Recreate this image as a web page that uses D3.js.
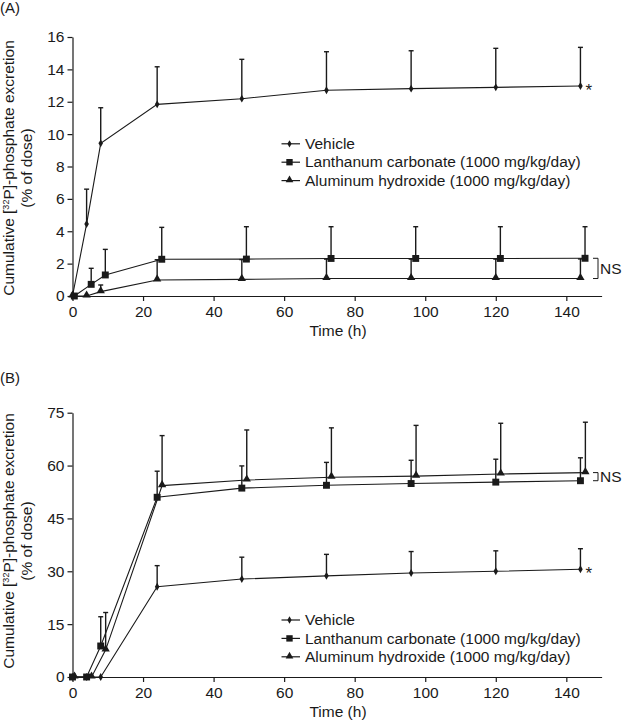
<!DOCTYPE html>
<html><head><meta charset="utf-8">
<script src="https://cdn.jsdelivr.net/npm/d3@7"></script>
<style>
html,body{margin:0;padding:0;background:#fff;}
svg text{font-family:"Liberation Sans",Arial,Helvetica,sans-serif;fill:#1a1a1a;}
</style></head>
<body>
<svg id="chart" width="622" height="724"></svg>
<script>
// ---- data ----
const times = [0, 4, 8, 24, 48, 72, 96, 120, 144];
const seriesNames = ["Vehicle", "Lanthanum carbonate (1000 mg/kg/day)", "Aluminum hydroxide (1000 mg/kg/day)"];

// Panel A (mean, upper SD)
const vehicleA      = [0, 4.45, 9.43, 11.84, 12.19, 12.71, 12.81, 12.89, 12.97];
const vehicleAErr   = [0, 2.15, 2.20, 2.32, 2.43, 2.38, 2.34, 2.41, 2.39];
const lanthanumA    = [0, 0.72, 1.30, 2.27, 2.28, 2.32, 2.32, 2.32, 2.33];
const lanthanumAErr = [0, 0.99, 1.58, 1.97, 2.00, 1.96, 1.96, 1.96, 1.95];
const aluminumA     = [0, 0, 0.27, 0.99, 1.03, 1.08, 1.08, 1.08, 1.08];
const aluminumAErr  = [0, 0, 0.41, 1.25, 1.22, 1.20, 1.20, 1.20, 1.21];

// Panel B (mean, upper SD)
const vehicleB      = [0, 0, 0, 25.6, 27.8, 28.7, 29.5, 30.0, 30.56];
const vehicleBErr   = [0, 0, 0, 6.0, 6.2, 6.1, 6.1, 5.8, 5.84];
const lanthanumB    = [0, 0, 8.8, 51.0, 53.6, 54.4, 54.9, 55.3, 55.7];
const lanthanumBErr = [0, 0, 8.3, 7.4, 6.3, 6.5, 6.6, 6.5, 6.5];
const aluminumB     = [0, 0, 7.7, 54.3, 55.9, 56.7, 57.0, 57.6, 58.0];
const aluminumBErr  = [0, 0, 10.6, 14.2, 14.2, 14.0, 14.4, 14.4, 14.3];

const xTicks = [0, 20, 40, 60, 80, 100, 120, 140];
const yTicksA = [0, 2, 4, 6, 8, 10, 12, 14, 16];
const yTicksB = [0, 15, 30, 45, 60, 75];
const xTitle = "Time (h)";
const panelLabels = ["(A)", "(B)"];

// ---- drawing ----
const svg = d3.select("#chart");
const ink = "#1a1a1a";
const FS = 15;

const symbols = [d3.symbolDiamond, d3.symbolSquare, d3.symbolTriangle];
const symSizes = [18, 48, 30];

function drawPanel(cfg) {
  const g = svg.append("g");
  const x = d3.scaleLinear().domain([0, 150]).range([72.5, 601.6]);
  const y = d3.scaleLinear().domain(cfg.yDomain).range([cfg.y0, cfg.y1]);

  // axes
  const xa = g.append("g").attr("transform", `translate(0,${cfg.y0})`)
    .call(d3.axisBottom(x).tickValues(xTicks).tickSize(5).tickSizeOuter(0).tickPadding(5));
  const ya = g.append("g").attr("transform", `translate(${x(0)},0)`)
    .call(d3.axisLeft(y).tickValues(cfg.yTicks).tickSize(5).tickSizeOuter(0).tickPadding(3));
  [xa, ya].forEach(a => {
    a.selectAll("path,line").attr("stroke", ink).attr("stroke-width", 1.2);
    a.selectAll("text").attr("font-size", FS + 0.5).attr("fill", ink)
      .style("font-family", '"Liberation Sans",Arial,sans-serif');
  });

  // x title
  g.append("text").attr("x", 338).attr("y", cfg.y0 + 40).attr("text-anchor", "middle")
    .attr("font-size", FS + 0.5).text(xTitle);

  // y title
  const yt = g.append("text").attr("transform", `translate(14,${cfg.yMid}) rotate(-90)`)
    .attr("text-anchor", "middle").attr("font-size", FS + 0.5);
  yt.append("tspan").text("Cumulative [");
  yt.append("tspan").attr("font-size", 9).attr("dy", -5).text("32");
  yt.append("tspan").attr("dy", 5).text("P]-phosphate excretion");
  g.append("text").attr("transform", `translate(32,${cfg.yMid}) rotate(-90)`)
    .attr("text-anchor", "middle").attr("font-size", FS + 0.5).text("(% of dose)");

  // panel label
  g.append("text").attr("x", 0).attr("y", cfg.labelY).attr("font-size", FS).text(cfg.label);

  const line = d3.line().x(d => x(d.t)).y(d => y(d.v));
  const order = [2, 1, 0];
  const data = cfg.series.map((s, i) => times.map((t, j) => ({
    t: t + (cfg.dodge[i] && t > 0 ? cfg.dodge[i] : (cfg.dodge[i] && t === 0 ? cfg.dodge[i] * 0.4 : 0)),
    v: s.mean[j], e: s.err[j]
  })));

  // lines
  data.forEach(d => {
    g.append("path").datum(d).attr("d", line).attr("fill", "none")
      .attr("stroke", ink).attr("stroke-width", 1.1);
  });
  // error bars
  order.forEach(i => {
    const d = data[i].filter(p => p.e > 0);
    const eb = g.append("g").attr("stroke", ink).attr("stroke-width", 1.4);
    eb.selectAll("line.v").data(d).join("line")
      .attr("x1", p => x(p.t)).attr("x2", p => x(p.t))
      .attr("y1", p => y(p.v)).attr("y2", p => y(p.v + p.e));
    eb.selectAll("line.c").data(d).join("line")
      .attr("x1", p => x(p.t) - 2.5).attr("x2", p => x(p.t) + 2.5)
      .attr("y1", p => y(p.v + p.e)).attr("y2", p => y(p.v + p.e));
  });
  // markers
  order.forEach(i => {
    g.append("g").selectAll("path").data(data[i]).join("path")
      .attr("transform", p => `translate(${x(p.t)},${y(p.v) + (i === 2 ? -0.8 : 0)})`)
      .attr("d", d3.symbol().type(symbols[i]).size(symSizes[i]))
      .attr("fill", ink);
  });

  // legend
  seriesNames.forEach((name, i) => {
    const ly = cfg.legendY + i * 18.4;
    g.append("line").attr("x1", 281.5).attr("x2", 300).attr("y1", ly).attr("y2", ly)
      .attr("stroke", ink).attr("stroke-width", 1.2);
    g.append("path").attr("transform", `translate(289.5,${ly + (i === 2 ? -0.6 : 0)})`)
      .attr("d", d3.symbol().type(symbols[i]).size(symSizes[i] * 0.85)).attr("fill", ink);
    g.append("text").attr("x", 305).attr("y", ly + 5.2).attr("font-size", FS + 0.5).text(name);
  });

  // star and NS annotations
  const vi = data[0][data[0].length - 1];
  g.append("text").attr("x", x(vi.t) + 5).attr("y", y(vi.v) + 10).attr("font-size", FS + 2).text("*");
  const top = Math.max(data[1][8].v, data[2][8].v), bot = Math.min(data[1][8].v, data[2][8].v);
  g.append("path").attr("d", `M593,${y(top)}H598V${y(bot)}H593`).attr("fill", "none")
    .attr("stroke", ink).attr("stroke-width", 1);
  g.append("text").attr("x", 600).attr("y", (y(top) + y(bot)) / 2 + 5.5).attr("font-size", FS + 0.5).text("NS");
}

drawPanel({
  label: panelLabels[0], labelY: 13,
  yDomain: [0, 16], y0: 296, y1: 37, yTicks: yTicksA, yMid: 168,
  dodge: [0, 1.3, 0],
  series: [{mean: vehicleA, err: vehicleAErr}, {mean: lanthanumA, err: lanthanumAErr}, {mean: aluminumA, err: aluminumAErr}],
  legendY: 143.8
});
drawPanel({
  label: panelLabels[1], labelY: 383,
  yDomain: [0, 75], y0: 677, y1: 412.7, yTicks: yTicksB, yMid: 541,
  dodge: [0, 0, 1.4],
  series: [{mean: vehicleB, err: vehicleBErr}, {mean: lanthanumB, err: lanthanumBErr}, {mean: aluminumB, err: aluminumBErr}],
  legendY: 620
});
</script>
</body></html>
